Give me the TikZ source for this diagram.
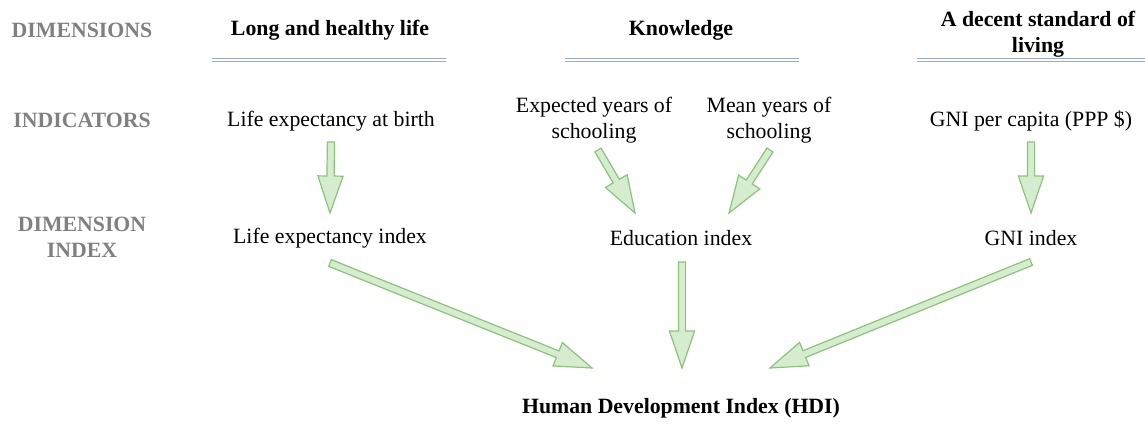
\documentclass[tikz,border=0pt]{standalone}
\usepackage{fontspec}
\setmainfont{Liberation Serif}
\usetikzlibrary{calc}

\definecolor{arrline}{RGB}{140,195,125}
\definecolor{arrfill}{RGB}{214,236,206}
\definecolor{rulecol}{RGB}{150,172,205}
\definecolor{labgray}{RGB}{128,128,128}

\newcommand\hdifont{\fontsize{10.9}{13}\selectfont}

\tikzset{
  rowlabel/.style={text=labgray, font=\hdifont\bfseries, align=center},
  headtext/.style={font=\hdifont\bfseries, align=center},
  plain/.style={font=\hdifont, align=center},
  dimrule/.style={draw=rulecol, double=white, double distance=0.6pt, line width=0.9pt},
  hdiarrow/.style={draw=arrline, fill=arrfill, line width=0.6pt, line join=miter}
}

% block arrow from #1 to #2
\newcommand\blockarrow[2]{%
  \coordinate (neck) at ($(#2)!18.5pt!(#1)$);
  \filldraw[hdiarrow] ($(#1)!1.8pt!90:(#2)$) -- ($(neck)!1.8pt!90:(#2)$)
    -- ($(neck)!6.3pt!90:(#2)$) -- (#2) -- ($(neck)!6.3pt!-90:(#2)$)
    -- ($(neck)!1.8pt!-90:(#2)$) -- ($(#1)!1.8pt!-90:(#2)$) -- cycle;}

\begin{document}
\begin{tikzpicture}[x=0.5pt, y=-0.5pt]
\useasboundingbox (0,0) rectangle (1145,425);

% row labels
\node[rowlabel] (dimlbl) at (82,30) {DIMENSIONS};
\node[rowlabel] (indlbl) at (82,120) {INDICATORS};
\node[rowlabel] (idxlbl) at (82,237) {DIMENSION\\INDEX};

% dimensions
\node[headtext] (health) at (330,30) {Long and healthy life};
\node[headtext] (know) at (681,30) {Knowledge};
\node[headtext] (living) at (1038,34) {A decent standard of\\living};

\draw[dimrule] ($(health)+(-118,30)$) -- ($(health)+(116,30)$);
\draw[dimrule] ($(know)+(-116,30)$) -- ($(know)+(118,30)$);
\draw[dimrule] ($(living)+(-121,26)$) -- ($(living)+(107,26)$);

% indicators
\node[plain] (lifebirth) at (331,121) {Life expectancy at birth};
\node[plain] (expyrs) at (594,120) {Expected years of\\schooling};
\node[plain] (meanyrs) at (769,120) {Mean years of\\schooling};
\node[plain] (gnipc) at (1031,121) {GNI per capita (PPP \$)};

% dimension index
\node[plain] (lifeidx) at (330,238) {Life expectancy index};
\node[plain] (eduidx) at (681,238) {Education index};
\node[plain] (gniidx) at (1031,238) {GNI index};

\node[headtext] (hdi) at (681,408) {Human Development Index (HDI)};

% arrow ends
\coordinate (a1s) at ($(lifebirth)+(0,21)$);
\coordinate (a1e) at ($(lifeidx)+(0,-25)$);
\coordinate (a2s) at ($(expyrs)+(4,30)$);
\coordinate (a2e) at ($(eduidx)+(-46,-25)$);
\coordinate (a3s) at ($(meanyrs)+(1,30)$);
\coordinate (a3e) at ($(eduidx)+(48,-25)$);
\coordinate (a4s) at ($(gnipc)+(0,21)$);
\coordinate (a4e) at ($(gniidx)+(0,-25)$);
\coordinate (a5s) at ($(lifeidx)+(0,25)$);
\coordinate (a5e) at ($(hdi)+(-89,-40)$);
\coordinate (a6s) at ($(eduidx)+(1,24)$);
\coordinate (a6e) at ($(hdi)+(1,-40)$);
\coordinate (a7s) at ($(gniidx)+(0,24)$);
\coordinate (a7e) at ($(hdi)+(89,-40)$);

\blockarrow{a1s}{a1e} %lifebirth-lifeidx
\blockarrow{a2s}{a2e} %expyrs-eduidx
\blockarrow{a3s}{a3e} %meanyrs-eduidx
\blockarrow{a4s}{a4e} %gnipc-gniidx
\blockarrow{a5s}{a5e} %lifeidx-hdi
\blockarrow{a6s}{a6e} %eduidx-hdi
\blockarrow{a7s}{a7e} %gniidx-hdi

\end{tikzpicture}
\end{document}
